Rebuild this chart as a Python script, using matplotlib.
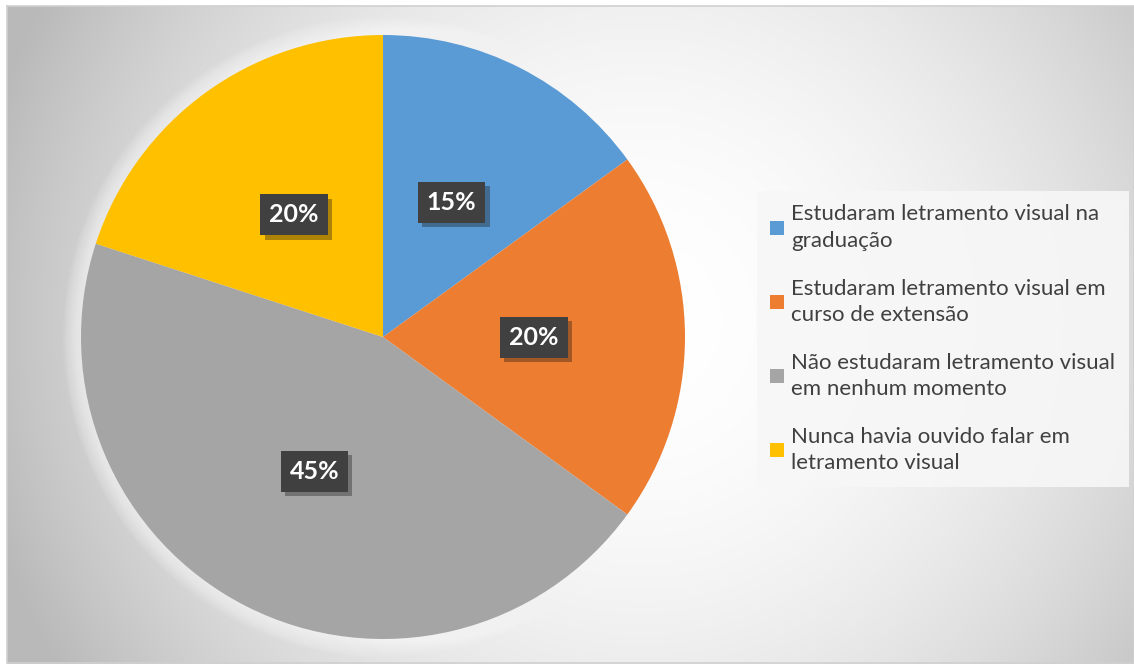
import numpy as np
import matplotlib
matplotlib.use("Agg")
from matplotlib import pyplot as plt
from matplotlib import patheffects as pe

labels = [
    "Estudaram letramento visual na\ngraduação",
    "Estudaram letramento visual em\ncurso de extensão",
    "Não estudaram letramento visual\nem nenhum momento",
    "Nunca havia ouvido falar em\nletramento visual",
]
values = [15, 20, 45, 20]
colors = ["#5b9bd5", "#ed7d31", "#a5a5a5", "#ffc000"]

W, H = 1134, 664
plt.rcParams['font.family'] = ['Lato', 'DejaVu Sans']

fig = plt.figure(figsize=(W / 100, H / 100), dpi=100)
fig.patch.set_facecolor("white")

# background with radial gradient
bg = fig.add_axes([0, 0, 1, 1])
bg.axis("off")
xx, yy = np.meshgrid(np.arange(7, W), np.arange(6, H))
d = np.sqrt((xx - 640) ** 2 + (yy - 320) ** 2) / 660.0
g = 255 - 66 * d ** 2
g = np.clip(g, 185, 255) / 255.0
img = np.dstack([g, g, g])
bg.imshow(img, extent=(7, W, H, 6), interpolation="bilinear")
bg.set_xlim(0, W)
bg.set_ylim(H, 0)
bg.plot([7, W, W, 7, 7], [6, 6, H - 1, H - 1, 6], color="#d0d0d0", lw=1.2)

# pie
cx, cy, R = 383, 337, 302
ax = fig.add_axes([(cx - R) / W, (H - cy - R) / H, 2 * R / W, 2 * R / H])
ax.axis("off")

# soft white glow around the pie
for k in range(12):
    c = plt.Circle((0, 0), 1.0 + 0.005 * (12 - k), color="white",
                   alpha=0.07, lw=0, zorder=0, clip_on=False)
    ax.add_patch(c)

wedges, texts, autotexts = ax.pie(
    values, colors=colors, startangle=90, counterclock=False,
    autopct="%1.0f%%", pctdistance=0.5, radius=1.0,
    wedgeprops=dict(linewidth=0),
    textprops=dict(color="white", fontsize=18, fontweight="bold"))
for t in autotexts:
    t.set_bbox(dict(boxstyle="square,pad=0.36", fc="#404040", ec="none"))
    t.get_bbox_patch().set_path_effects(
        [pe.SimplePatchShadow(offset=(3, -3), alpha=0.35), pe.Normal()])
ax.set_xlim(-1, 1)
ax.set_ylim(-1, 1)

# legend
leg = fig.legend(wedges, labels, loc="upper left",
                 bbox_to_anchor=(757 / W, 1 - 191 / H),
                 fontsize=16, frameon=True, fancybox=False,
                 handlelength=0.6, handleheight=0.6, handletextpad=0.35,
                 labelspacing=1.25, borderpad=0.6, borderaxespad=0,
                 labelcolor="#404040")
for t in leg.get_texts():
    t.set_linespacing(1.4)
leg.get_frame().set_facecolor("#f7f7f7")
leg.get_frame().set_edgecolor("none")
leg.get_frame().set_alpha(0.9)

fig.savefig("out.png", dpi=100)
